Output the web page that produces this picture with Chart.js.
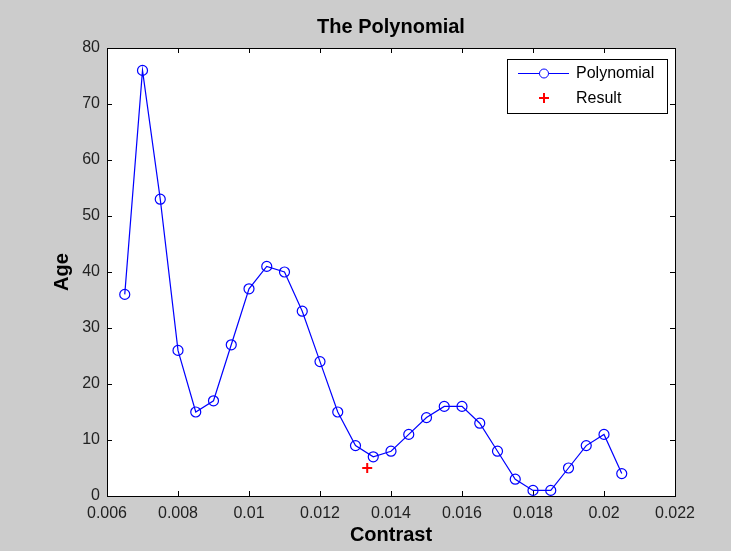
<!DOCTYPE html>
<html>
<head>
<meta charset="utf-8">
<script src="https://cdn.jsdelivr.net/npm/chart.js@4/dist/chart.umd.min.js"></script>
<style>
  html, body { margin: 0; padding: 0; background: #cccccc; }
  canvas { display: block; }
</style>
</head>
<body>
<canvas id="myChart" width="731" height="551"></canvas>
<script>
// data
var contrast = [0.0065, 0.007, 0.0075, 0.008, 0.0085, 0.009, 0.0095, 0.01, 0.0105, 0.011,
                0.0115, 0.012, 0.0125, 0.013, 0.0135, 0.014, 0.0145, 0.015, 0.0155, 0.016,
                0.0165, 0.017, 0.0175, 0.018, 0.0185, 0.019, 0.0195, 0.02, 0.0205];
var age = [36, 76, 53, 26, 15, 17, 27, 37, 41, 40,
           33, 24, 15, 9, 7, 8, 11, 14, 16, 16,
           13, 8, 3, 1, 1, 5, 9, 11, 4];
var resultX = [0.01333];
var resultY = [5];
var xTicks = [0.006, 0.008, 0.01, 0.012, 0.014, 0.016, 0.018, 0.02, 0.022];
var yTicks = [0, 10, 20, 30, 40, 50, 60, 70, 80];

var fontName = '"Liberation Sans", Arial, Helvetica, sans-serif';

function toPoints(xs, ys) {
    return xs.map(function(x, i) { return { x: x, y: ys[i] }; });
}

// white plot area, box and inward ticks like matlab
var boxPlugin = {
    id: 'box',
    beforeDatasetsDraw: function(chart) {
        var a = chart.chartArea, ctx = chart.ctx;
        ctx.save();
        ctx.strokeStyle = '#000';
        ctx.lineWidth = 1;
        var xs = chart.scales.x, ys = chart.scales.y;
        ctx.beginPath();
        xTicks.forEach(function(v) {
            var px = Math.round(xs.getPixelForValue(v)) + 0.5;
            ctx.moveTo(px, a.bottom); ctx.lineTo(px, a.bottom - 5);
            ctx.moveTo(px, a.top); ctx.lineTo(px, a.top + 5);
        });
        yTicks.forEach(function(v) {
            var py = Math.round(ys.getPixelForValue(v)) + 0.5;
            ctx.moveTo(a.left, py); ctx.lineTo(a.left + 5, py);
            ctx.moveTo(a.right, py); ctx.lineTo(a.right - 5, py);
        });
        ctx.stroke();
        ctx.strokeRect(Math.round(a.left) + 0.5, Math.round(a.top) + 0.5,
                       Math.round(a.right - a.left), Math.round(a.bottom - a.top));
        ctx.restore();
    },
    beforeDraw: function(chart) {
        var a = chart.chartArea, ctx = chart.ctx;
        ctx.save();
        ctx.fillStyle = '#cccccc';
        ctx.fillRect(0, 0, chart.width, chart.height);
        ctx.fillStyle = '#ffffff';
        ctx.fillRect(a.left, a.top, a.right - a.left, a.bottom - a.top);
        ctx.restore();
    },
    afterDraw: function(chart) {
        // legend box in the upper right corner
        var ctx = chart.ctx;
        var bx = 507, by = 59, bw = 160, bh = 54;
        ctx.save();
        ctx.fillStyle = '#fff';
        ctx.fillRect(bx, by, bw, bh);
        ctx.strokeStyle = '#000';
        ctx.lineWidth = 1;
        ctx.strokeRect(bx + 0.5, by + 0.5, bw, bh);

        var ds = chart.data.datasets;
        // row 1: line with circle
        ctx.strokeStyle = ds[0].borderColor;
        ctx.beginPath();
        ctx.moveTo(518, 73.5); ctx.lineTo(539.5, 73.5);
        ctx.moveTo(548.5, 73.5); ctx.lineTo(569, 73.5);
        ctx.stroke();
        ctx.beginPath();
        ctx.arc(544, 73.5, 4.5, 0, Math.PI * 2);
        ctx.stroke();
        // row 2: red cross
        ctx.strokeStyle = ds[1].borderColor;
        ctx.lineWidth = 2;
        ctx.beginPath();
        ctx.moveTo(539, 98); ctx.lineTo(549, 98);
        ctx.moveTo(544, 93); ctx.lineTo(544, 103);
        ctx.stroke();

        ctx.fillStyle = '#000';
        ctx.font = '16px ' + fontName;
        ctx.textBaseline = 'middle';
        ctx.fillText(ds[0].label, 576, 74);
        ctx.fillText(ds[1].label, 576, 99);
        ctx.restore();
    }
};

var ctx = document.getElementById('myChart').getContext('2d');
var myChart = new Chart(ctx, {
    type: 'scatter',
    data: {
        datasets: [{
            label: 'Polynomial',
            data: toPoints(contrast, age),
            showLine: true,
            borderColor: '#0000ff',
            backgroundColor: 'rgba(0,0,0,0)',
            borderWidth: 1.2,
            pointStyle: 'circle',
            pointRadius: 5,
            pointBorderWidth: 1.2,
            tension: 0
        }, {
            label: 'Result',
            data: toPoints(resultX, resultY),
            showLine: false,
            borderColor: '#ff0000',
            backgroundColor: '#ff0000',
            pointStyle: 'cross',
            pointRadius: 5,
            pointBorderWidth: 2
        }]
    },
    options: {
        responsive: false,
        animation: false,
        layout: { padding: { left: 46, right: 56, top: 0, bottom: 0 } },
        plugins: {
            legend: { display: false },
            tooltip: { enabled: false },
            title: {
                display: true,
                text: 'The Polynomial',
                fullSize: false,
                color: '#000',
                font: { family: fontName, size: 20, weight: 'bold' },
                padding: { top: 15, bottom: 9 }
            }
        },
        scales: {
            x: {
                type: 'linear',
                min: 0.006,
                max: 0.022,
                grid: { display: false, drawTicks: false },
                border: { display: false },
                afterBuildTicks: function(scale) {
                    scale.ticks = xTicks.map(function(v) { return { value: v }; });
                },
                afterFit: function(scale) { scale.height = 55; },
                ticks: {
                    autoSkip: false,
                    maxRotation: 0,
                    padding: 8,
                    color: '#222',
                    font: { family: fontName, size: 16 },
                    callback: function(v) { return String(Number(v.toFixed(4))); }
                },
                title: {
                    display: true,
                    text: 'Contrast',
                    color: '#000',
                    font: { family: fontName, size: 20, weight: 'bold' }
                }
            },
            y: {
                min: 0,
                max: 80,
                grid: { display: false, drawTicks: false },
                border: { display: false },
                afterBuildTicks: function(scale) {
                    scale.ticks = yTicks.map(function(v) { return { value: v }; });
                },
                afterFit: function(scale) { scale.width = 61; },
                ticks: {
                    autoSkip: false,
                    padding: 7,
                    color: '#222',
                    font: { family: fontName, size: 16 }
                },
                title: {
                    display: true,
                    text: 'Age',
                    color: '#000',
                    font: { family: fontName, size: 20, weight: 'bold' }
                }
            }
        }
    },
    plugins: [boxPlugin]
});
</script>
</body>
</html>
